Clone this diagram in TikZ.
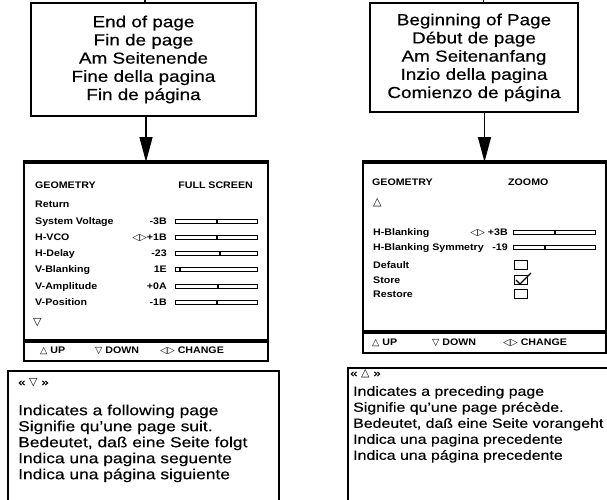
\documentclass[tikz,border=0pt]{standalone}
\usepackage{fontspec}
\setmainfont{Liberation Sans}
\newfontfamily\bigf[FakeStretch=1.18,FakeBold=0.5]{Liberation Sans}
\newfontfamily\midf[FakeStretch=1.2,FakeBold=0.4]{Liberation Sans}
\newfontfamily\scrf[FakeStretch=1.12]{Liberation Sans}
\newfontfamily\symf{DejaVu Sans}
\usetikzlibrary{arrows.meta}
\begin{document}
\begin{tikzpicture}[x=1pt,y=-1pt,
  titlebox/.style={draw, line width=2pt, inner sep=0pt, align=center,
    font=\bigf\fontsize{16}{18.2}\selectfont},
  screenbox/.style={draw, line width=2pt, inner sep=0pt, anchor=north west},
  notebox/.style={draw, line width=1.6pt, inner sep=0pt, anchor=north west},
  scr/.style={inner sep=0pt, font=\scrf\bfseries\fontsize{9.5}{11}\selectfont},
  notetext/.style={inner sep=0pt, anchor=north west, align=left,
    font=\midf\fontsize{14.5}{16}\selectfont},
  symline/.style={inner sep=0pt, anchor=west, font=\midf\fontsize{11}{12}\selectfont},
  slider/.style={draw, line width=1pt, minimum width=82pt, minimum height=4pt,
    inner sep=0pt, anchor=west},
  chk/.style={draw, line width=1.3pt, minimum width=13pt, minimum height=9pt,
    inner sep=0pt, anchor=west},
  flow/.style={line width=1.5pt, -{Triangle[length=25pt,width=13pt]}},
  stub/.style={line width=1.5pt},
  tick/.style={line width=1.6pt},
]
\useasboundingbox (0,0) rectangle (607,500);
\clip (0,0) rectangle (607,500);

% ---------- top boxes ----------
\node[titlebox, minimum width=225pt, minimum height=113pt] (endbox) at (143.5,59.5)
  {End of page\\Fin de page\\Am Seitenende\\Fine della pagina\\Fin de página};
\node[titlebox, minimum width=208pt, minimum height=109pt] (startbox) at (474,57.5)
  {Beginning of Page\\Début de page\\Am Seitenanfang\\Inzio della pagina\\Comienzo de página};

% ---------- screens ----------
\node[screenbox, minimum width=244pt, minimum height=198pt] (lscreen) at (23,162) {};
\node[screenbox, minimum width=243pt, minimum height=190pt] (rscreen) at (362,162) {};
\draw[line width=4pt] (lscreen.north west) -- (lscreen.north east);
\draw[line width=4pt] (rscreen.north west) -- (rscreen.north east);
\draw[line width=3.5pt] (23,341) -- (267,341);
\draw[line width=3.5pt] (362,332) -- (605,332);

% ---------- connectors ----------
\coordinate (ltop) at (145,0);
\coordinate (rtop) at (483.5,0);
\draw[stub] (endbox.north -| ltop) -- (ltop);
\draw[stub] (startbox.north -| rtop) -- (rtop);
\draw[flow] (endbox.south -| lscreen.north) -- (lscreen.north);
\draw[flow] (startbox.south -| rscreen.north) -- (rscreen.north);

% ---------- left screen content ----------
\node[scr, anchor=base west] (lgeo) at (35,188.5) {GEOMETRY};
\node[scr, anchor=base east] (lfull) at (253,188.5) {FULL SCREEN};
\node[scr, anchor=base west] (lret) at (35,207.5) {Return};
\node[scr, anchor=base west] (lr1) at (35,224.5) {System Voltage};
\node[scr, anchor=base east] (lv1) at (167,224.5) {-3B};
\node[slider] (ls1) at (175,221) {};
\draw[tick] (217,219) -- (217,223);
\node[scr, anchor=base west] (lr2) at (35,240.5) {H-VCO};
\node[scr, anchor=base east] (lv2) at (167,240.5) {{\symf ◁▷}+1B};
\node[slider] (ls2) at (175,237) {};
\draw[tick] (217,235) -- (217,239);
\node[scr, anchor=base west] (lr3) at (35,256.5) {H-Delay};
\node[scr, anchor=base east] (lv3) at (167,256.5) {-23};
\node[slider] (ls3) at (175,253) {};
\draw[tick] (220,251) -- (220,255);
\node[scr, anchor=base west] (lr4) at (35,272.5) {V-Blanking};
\node[scr, anchor=base east] (lv4) at (167,272.5) {1E};
\node[slider] (ls4) at (175,269) {};
\draw[tick] (180,267) -- (180,271);
\node[scr, anchor=base west] (lr5) at (35,289.5) {V-Amplitude};
\node[scr, anchor=base east] (lv5) at (167,289.5) {+0A};
\node[slider] (ls5) at (175,286) {};
\draw[tick] (218,284) -- (218,288);
\node[scr, anchor=base west] (lr6) at (35,305.5) {V-Position};
\node[scr, anchor=base east] (lv6) at (167,305.5) {-1B};
\node[slider] (ls6) at (175,302) {};
\draw[tick] (217,300) -- (217,304);
\node[scr, anchor=west] (ldn) at (33,323) {\symf\fontsize{11}{12}\selectfont ▽};
% bar
\node[scr, anchor=west] (lup) at (40,351) {{\symf △} UP};
\node[scr, anchor=west] (ldown) at (95,351) {{\symf ▽} DOWN};
\node[scr, anchor=west] (lchg) at (160,351) {{\symf ◁▷} CHANGE};

% ---------- right screen content ----------
\node[scr, anchor=base west] (rgeo) at (372,185.5) {GEOMETRY};
\node[scr, anchor=base west] (rzoom) at (508,185.5) {ZOOMO};
\node[scr, anchor=west] (rupsym) at (373,203) {\symf\fontsize{11}{12}\selectfont △};
\node[scr, anchor=base west] (rr1) at (373,235.5) {H-Blanking};
\node[scr, anchor=base east] (rv1) at (508,235.5) {{\symf ◁▷} +3B};
\node[slider] (rs1) at (513,232) {};
\draw[tick] (555,230) -- (555,234);
\node[scr, anchor=base west] (rr2) at (373,250.5) {H-Blanking Symmetry};
\node[scr, anchor=base east] (rv2) at (508,250.5) {-19};
\node[slider] (rs2) at (513,247) {};
\draw[tick] (545,245) -- (545,249);
\node[scr, anchor=base west] (rr3) at (373,268.5) {Default};
\node[chk] (rc1) at (514,265) {};
\node[scr, anchor=base west] (rr4) at (373,283.5) {Store};
\node[chk] (rc2) at (514,280) {};
\draw[line width=1.3pt] (rc2.west) ++(2,0) -- ++(4,4) -- ++(11,-11);
\node[scr, anchor=base west] (rr5) at (373,297.5) {Restore};
\node[chk] (rc3) at (514,294) {};
% bar
\node[scr, anchor=west] (rup) at (372,343) {{\symf △} UP};
\node[scr, anchor=west] (rdown) at (432,343) {{\symf ▽} DOWN};
\node[scr, anchor=west] (rchg) at (503,343) {{\symf ◁▷} CHANGE};

% ---------- note boxes ----------
\node[notebox, minimum width=271pt, minimum height=160pt] (lnote) at (7,370) {};
\node[notebox, minimum width=300pt, minimum height=160pt] (rnote) at (347,367) {};
\node[symline] (lsym) at (18,383) {« {\symf ▽} »};
\node[notetext] (ltxt) at (18,404.5)
  {Indicates a following page\\Signifie qu’une page suit.\\Bedeutet, daß eine Seite folgt\\Indica una pagina seguente\\Indica una página siguiente};
\node[symline] (rsym) at (350,374) {« {\symf △} »};
\node[notetext, font=\midf\fontsize{13.25}{16}\selectfont] (rtxt) at (353,386)
  {Indicates a preceding page\\Signifie qu’une page précède.\\Bedeutet, daß eine Seite vorangeht\\Indica una pagina precedente\\Indica una página precedente};
\end{tikzpicture}
\end{document}
